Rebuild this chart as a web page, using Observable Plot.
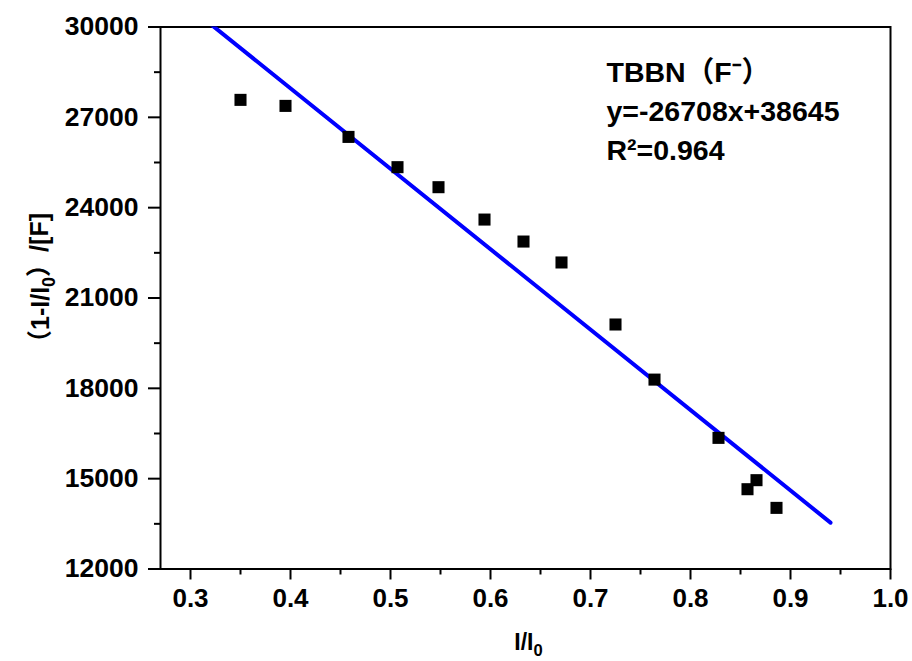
<!DOCTYPE html>
<html>
<head>
<meta charset="utf-8">
<script src="https://cdn.jsdelivr.net/npm/d3@7"></script>
<script src="https://cdn.jsdelivr.net/npm/@observablehq/plot@0.6"></script>
<style>
  html, body { margin: 0; padding: 0; background: #fff; }
  #chart { width: 912px; height: 661px; }
</style>
</head>
<body>
<div id="chart"></div>
<script>
// ---- data ----
const ratio  = [0.350, 0.395, 0.458, 0.507, 0.548, 0.594, 0.633, 0.671, 0.725, 0.764, 0.828, 0.857, 0.866, 0.886];
const quench = [27580, 27380, 26350, 25345, 24680, 23605, 22875, 22180, 20120, 18290, 16355, 14650, 14950, 14030];

// fitted line, as printed on the chart
const fitSlope = -26708;
const fitIntercept = 38645;
const fitRange = [0.27, 0.94];

const xTicks = [0.3, 0.4, 0.5, 0.6, 0.7, 0.8, 0.9, 1.0];
const xMinorTicks = [0.35, 0.45, 0.55, 0.65, 0.75, 0.85, 0.95];
const yTicks = [12000, 15000, 18000, 21000, 24000, 27000, 30000];
const yMinorTicks = [13500, 16500, 19500, 22500, 25500, 28500];

const annotation = ["TBBN（F⁻）", "y=-26708x+38645", "R²=0.964"];
const xLabel = "I/I₀";
const yLabel = "（1-I/I₀）/[F]";

const points = ratio.map((r, i) => ({x: r, y: quench[i]}));
const fit = fitRange.map(x => ({x, y: fitSlope * x + fitIntercept}));

const plot = Plot.plot({
  width: 912,
  height: 661,
  marginLeft: 160,
  marginRight: 22,
  marginTop: 26.5,
  marginBottom: 92.5,
  style: {fontFamily: "'Liberation Sans', Arial, 'Noto Sans CJK SC', sans-serif", fontWeight: "bold", color: "#000", background: "#fff"},
  x: {domain: [0.27, 1.0], axis: null},
  y: {domain: [12000, 30000], axis: null},
  marks: [
    Plot.axisX({ticks: xTicks, tickSize: 11, tickPadding: 9, tickFormat: d3.format(".1f"), fontSize: 26, strokeWidth: 2, label: null}),
    Plot.axisX({ticks: xMinorTicks, tickSize: 6, text: null, strokeWidth: 2, label: null}),
    Plot.axisY({ticks: yTicks, tickSize: 12, tickPadding: 10, tickFormat: d3.format("d"), fontSize: 26.5, strokeWidth: 2, label: null}),
    Plot.axisY({ticks: yMinorTicks, tickSize: 6, text: null, strokeWidth: 2, label: null}),
    Plot.frame({stroke: "#000", strokeWidth: 2}),
    Plot.line(fit, {x: "x", y: "y", stroke: "#0000ff", strokeWidth: 4, strokeLinecap: "round", clip: true}),
    Plot.dot(points, {x: "x", y: "y", symbol: "square", r: 6.8, fill: "#000", stroke: "none"}),
    Plot.text([annotation.join("\n")], {x: 0.716, y: 29080, text: d => d, textAnchor: "start", lineAnchor: "top", lineHeight: 1.36, fontSize: 28.5, fill: "#000"}),
    Plot.text([xLabel], {frameAnchor: "bottom", text: d => d, textAnchor: "middle", lineAnchor: "top", dy: 65, dx: 3, fontSize: 23, fill: "#000"}),
    Plot.text([yLabel], {y: 21465, frameAnchor: "left", text: d => d, textAnchor: "middle", rotate: -90, lineAnchor: "middle", dx: -120, fontSize: 25, fill: "#000"})
  ]
});

// render the subscript zero as a real lowered, smaller "0"
plot.querySelectorAll("text").forEach(t => {
  if (t.children.length || !t.textContent.includes("₀")) return;
  const parts = t.textContent.split("₀");
  t.textContent = "";
  const NS = "http://www.w3.org/2000/svg";
  parts.forEach((p, i) => {
    if (i > 0) {
      const sub = document.createElementNS(NS, "tspan");
      sub.setAttribute("font-size", "0.72em");
      sub.setAttribute("dy", "0.36em");
      sub.textContent = "0";
      t.appendChild(sub);
    }
    if (p) {
      const s = document.createElementNS(NS, "tspan");
      if (i > 0) s.setAttribute("dy", "-0.26em");
      s.textContent = p;
      t.appendChild(s);
    }
  });
});

document.getElementById("chart").appendChild(plot);
</script>
</body>
</html>
